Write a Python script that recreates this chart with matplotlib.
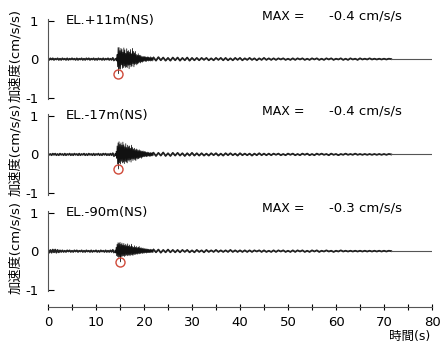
import matplotlib
matplotlib.use("Agg")
import matplotlib.pyplot as plt
import numpy as np

plt.rcParams['font.family'] = ['DejaVu Sans', 'Noto Sans CJK JP']

t_pre = np.arange(0, 14, 0.25)
t_main = np.arange(0, 80) * 0.1 + 14.0
t_post = np.arange(0, 100) * 0.5 + 22.0
t_tail = [71.5, 80.0]
tail = [0.0, 0.0]

labels = ["EL.+11m(NS)", "EL.-17m(NS)", "EL.-90m(NS)"]
max_text = ["-0.4 cm/s/s", "-0.4 cm/s/s", "-0.3 cm/s/s"]
peak_t = [14.6, 14.6, 15.1]
peak_v = [-0.38, -0.38, -0.28]

pre1 = [0.01, -0.02, 0.02, -0.01, 0.02, -0.02, 0.01, -0.01, 0.02, -0.02,
        0.01, -0.02, 0.02, -0.01, 0.01, -0.02, 0.02, -0.02, 0.01, -0.01,
        0.02, -0.01, 0.01, -0.02, 0.02, -0.02, 0.01, -0.01, 0.02, -0.02,
        0.01, -0.02, 0.02, -0.01, 0.02, -0.02, 0.01, -0.01, 0.02, -0.02,
        0.01, -0.02, 0.02, -0.01, 0.01, -0.02, 0.02, -0.02, 0.01, -0.01,
        0.02, -0.02, 0.01, -0.02, 0.03, -0.03]
main1 = [0.02, -0.03, 0.03, -0.05, 0.12, -0.20, 0.30, -0.38, 0.30, -0.25,
         0.22, -0.26, 0.28, -0.15, 0.25, -0.24, 0.18, -0.22, 0.29, -0.18,
         0.24, -0.22, 0.15, -0.20, 0.27, -0.22, 0.20, -0.16, 0.22, -0.25,
         0.18, -0.15, 0.25, -0.20, 0.14, -0.18, 0.28, -0.12, 0.20, -0.20,
         0.16, -0.14, 0.20, -0.12, 0.12, -0.15, 0.10, -0.12, 0.14, -0.10,
         0.10, -0.08, 0.10, -0.10, 0.08, -0.07, 0.06, -0.08, 0.07, -0.06,
         0.06, -0.05, 0.07, -0.06, 0.05, -0.06, 0.05, -0.04, 0.06, -0.05,
         0.05, -0.04, 0.04, -0.05, 0.06, -0.04, 0.04, -0.05, 0.04, -0.03]
post1 = [0.04, -0.04, 0.05, -0.03, 0.04, -0.04, 0.03, -0.04, 0.04, -0.03,
         0.04, -0.04, 0.03, -0.03, 0.04, -0.04, 0.03, -0.03, 0.03, -0.03,
         0.03, -0.02, 0.03, -0.03, 0.02, -0.03, 0.03, -0.02, 0.03, -0.03,
         0.03, -0.03, 0.02, -0.03, 0.03, -0.02, 0.03, -0.03, 0.02, -0.02,
         0.03, -0.02, 0.02, -0.03, 0.02, -0.02, 0.03, -0.02, 0.02, -0.02,
         0.02, -0.02, 0.02, -0.01, 0.02, -0.02, 0.01, -0.02, 0.02, -0.02,
         0.02, -0.01, 0.02, -0.02, 0.01, -0.02, 0.02, -0.01, 0.02, -0.02,
         0.01, -0.02, 0.02, -0.01, 0.02, -0.02, 0.01, -0.01, 0.02, -0.02,
         0.01, -0.02, 0.02, -0.01, 0.01, -0.02, 0.02, -0.01, 0.01, -0.01,
         0.02, -0.01, 0.01, -0.01, 0.01, -0.01, 0.01, -0.01, 0.01, 0.00]

pre2 = [0.02, -0.01, 0.01, -0.02, 0.02, -0.01, 0.02, -0.02, 0.01, -0.02,
        0.02, -0.01, 0.01, -0.02, 0.02, -0.02, 0.01, -0.01, 0.02, -0.02,
        0.01, -0.02, 0.02, -0.01, 0.01, -0.02, 0.02, -0.02, 0.01, -0.01,
        0.02, -0.02, 0.01, -0.02, 0.02, -0.01, 0.01, -0.02, 0.02, -0.02,
        0.01, -0.01, 0.02, -0.02, 0.01, -0.02, 0.02, -0.01, 0.02, -0.02,
        0.01, -0.02, 0.02, -0.02, 0.03, -0.04]
main2 = [0.03, -0.04, 0.08, -0.10, 0.22, -0.25, 0.30, -0.38, 0.33, -0.22,
         0.26, -0.25, 0.30, -0.18, 0.24, -0.22, 0.32, -0.20, 0.25, -0.24,
         0.20, -0.18, 0.28, -0.20, 0.18, -0.22, 0.24, -0.15, 0.20, -0.18,
         0.22, -0.14, 0.16, -0.20, 0.24, -0.12, 0.18, -0.16, 0.14, -0.12,
         0.16, -0.14, 0.12, -0.16, 0.14, -0.10, 0.12, -0.12, 0.10, -0.11,
         0.12, -0.09, 0.10, -0.08, 0.09, -0.10, 0.08, -0.07, 0.09, -0.06,
         0.07, -0.06, 0.08, -0.05, 0.06, -0.06, 0.05, -0.05, 0.06, -0.04,
         0.05, -0.05, 0.04, -0.05, 0.05, -0.04, 0.04, -0.04, 0.05, -0.03]
post2 = [0.04, -0.04, 0.04, -0.03, 0.05, -0.04, 0.03, -0.04, 0.04, -0.03,
         0.04, -0.03, 0.03, -0.04, 0.03, -0.03, 0.04, -0.03, 0.03, -0.03,
         0.03, -0.03, 0.02, -0.03, 0.03, -0.02, 0.03, -0.03, 0.02, -0.03,
         0.03, -0.02, 0.03, -0.02, 0.02, -0.03, 0.03, -0.02, 0.02, -0.02,
         0.02, -0.03, 0.02, -0.02, 0.03, -0.02, 0.02, -0.02, 0.02, -0.02,
         0.02, -0.01, 0.02, -0.02, 0.01, -0.02, 0.02, -0.01, 0.02, -0.02,
         0.01, -0.02, 0.02, -0.01, 0.02, -0.02, 0.01, -0.02, 0.02, -0.01,
         0.02, -0.01, 0.01, -0.02, 0.02, -0.01, 0.01, -0.02, 0.01, -0.01,
         0.02, -0.01, 0.01, -0.01, 0.02, -0.01, 0.01, -0.01, 0.01, -0.01,
         0.01, -0.01, 0.01, -0.01, 0.01, -0.01, 0.01, -0.01, 0.01, 0.00]

pre3 = [0.04, -0.04, 0.03, -0.04, 0.04, -0.03, 0.04, -0.04, 0.03, -0.03,
        0.02, -0.02, 0.02, -0.02, 0.01, -0.02, 0.02, -0.01, 0.02, -0.02,
        0.01, -0.02, 0.02, -0.01, 0.02, -0.02, 0.01, -0.01, 0.02, -0.02,
        0.01, -0.02, 0.02, -0.01, 0.01, -0.02, 0.02, -0.02, 0.01, -0.01,
        0.02, -0.02, 0.01, -0.02, 0.02, -0.01, 0.01, -0.02, 0.02, -0.02,
        0.01, -0.02, 0.02, -0.02, 0.03, -0.03]
main3 = [0.03, -0.05, 0.10, -0.12, 0.18, -0.14, 0.22, -0.16, 0.20, -0.15,
         0.23, -0.28, 0.18, -0.14, 0.21, -0.13, 0.16, -0.12, 0.20, -0.14,
         0.15, -0.12, 0.18, -0.10, 0.14, -0.12, 0.19, -0.11, 0.13, -0.10,
         0.16, -0.12, 0.12, -0.09, 0.18, -0.10, 0.12, -0.11, 0.10, -0.08,
         0.14, -0.09, 0.10, -0.08, 0.12, -0.07, 0.09, -0.08, 0.10, -0.06,
         0.12, -0.07, 0.08, -0.06, 0.09, -0.05, 0.07, -0.06, 0.08, -0.05,
         0.06, -0.05, 0.07, -0.04, 0.05, -0.05, 0.06, -0.04, 0.05, -0.04,
         0.05, -0.04, 0.04, -0.04, 0.05, -0.03, 0.04, -0.04, 0.04, -0.03]
post3 = [0.04, -0.03, 0.04, -0.04, 0.03, -0.03, 0.04, -0.03, 0.03, -0.03,
         0.03, -0.03, 0.03, -0.02, 0.03, -0.03, 0.02, -0.03, 0.03, -0.02,
         0.02, -0.03, 0.03, -0.02, 0.02, -0.02, 0.03, -0.02, 0.02, -0.02,
         0.02, -0.02, 0.03, -0.02, 0.02, -0.02, 0.02, -0.02, 0.02, -0.02,
         0.02, -0.02, 0.02, -0.01, 0.02, -0.02, 0.02, -0.02, 0.01, -0.02,
         0.02, -0.02, 0.02, -0.01, 0.02, -0.02, 0.01, -0.02, 0.02, -0.02,
         0.02, -0.01, 0.02, -0.02, 0.01, -0.02, 0.02, -0.01, 0.02, -0.02,
         0.01, -0.01, 0.02, -0.01, 0.01, -0.02, 0.01, -0.01, 0.02, -0.01,
         0.01, -0.01, 0.01, -0.01, 0.01, -0.01, 0.01, -0.01, 0.01, -0.01,
         0.01, -0.01, 0.01, -0.01, 0.01, -0.01, 0.01, -0.01, 0.01, 0.00]

traces = [(pre1, main1, post1), (pre2, main2, post2), (pre3, main3, post3)]

fig = plt.figure(figsize=(4.41, 3.53), dpi=100)

left = 48 / 441
width = 384 / 441
height = 83 / 353
bottoms = [0.715, 0.445, 0.171]
ylab_y = [55, 150, 248]

for i in range(3):
    ax = fig.add_axes([left, bottoms[i], width, height])
    pre, main, post = traces[i]
    t = np.concatenate([t_pre, t_main, t_post])
    y = np.concatenate([pre, main, post])
    # thin pass for the strong motion, heavier pass for the quiet parts
    ax.plot(t, y, color='#111111', lw=0.55)
    ax.plot(t_pre, pre, color='#222222', lw=1.3)
    ax.plot(t_post, post, color='#222222', lw=1.3)
    ax.plot(t_tail, tail, color='#555555', lw=0.8)
    ax.plot(peak_t[i], peak_v[i], 'o', ms=6.5, mfc='none', mec='#d04a3a', mew=1.0)

    ax.set_xlim(0, 80)
    ax.set_ylim(-1.08, 1.08)
    ax.set_yticks([-1, 0, 1])
    ax.set_yticklabels(['-1', '0', '1'])
    ax.tick_params(axis='y', direction='in', length=4, width=0.8, pad=7, labelsize=9.5)
    for s in ['top', 'right']:
        ax.spines[s].set_visible(False)
    ax.spines['left'].set_color('#555555')
    ax.spines['left'].set_linewidth(0.8)
    ax.spines['left'].set_bounds(-1.05, 1.05)

    ax.text(3.6, 1.0, labels[i], fontsize=9.5, va='center', ha='left')
    ax.text(44.5, 1.12, "MAX =", fontsize=9, va='center', ha='left')
    ax.text(58.5, 1.12, max_text[i], fontsize=9.5, va='center', ha='left')

    fig.text(16 / 441, 1 - ylab_y[i] / 353, "加速度(cm/s/s)", rotation=90,
             fontsize=9.5, ha='center', va='center')

    if i < 2:
        ax.spines['bottom'].set_visible(False)
        ax.set_xticks([])
    else:
        ax.spines['bottom'].set_position(('outward', 10.5))
        ax.spines['bottom'].set_color('#555555')
        ax.spines['bottom'].set_linewidth(0.8)
        ax.set_xticks(np.arange(0, 81, 10))
        ax.set_xticks(np.arange(5, 80, 10), minor=True)
        ax.tick_params(axis='x', which='both', direction='inout', length=5,
                       width=0.8, labelsize=9.5, pad=4)

fig.text(410 / 441, 1 - 336 / 353, "時間(s)", fontsize=9, ha='center', va='center')

fig.savefig("out.png", dpi=100)
